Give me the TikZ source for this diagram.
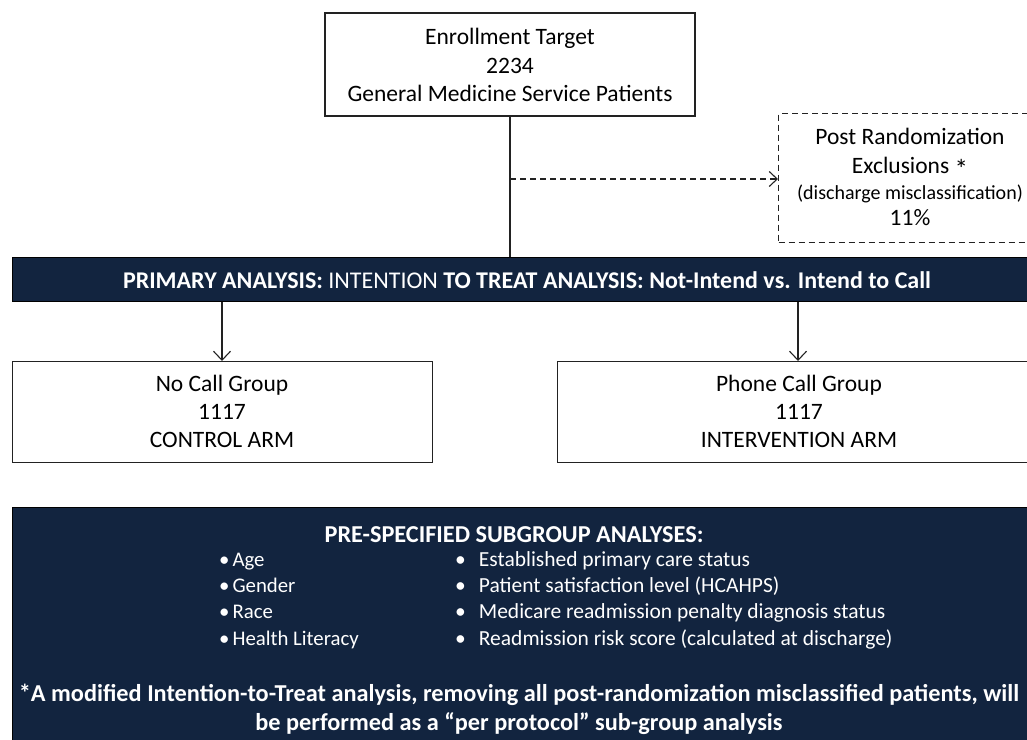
\documentclass[tikz,border=0pt]{standalone}
\usepackage{fontspec}
\setmainfont{Carlito}
\usetikzlibrary{arrows.meta}
\definecolor{navy}{HTML}{12243F}
\definecolor{edge}{HTML}{222222}
\begin{document}
\begin{tikzpicture}[x=1pt,y=-1pt,
  box/.style={draw=edge, line width=1.4pt, fill=white, inner sep=0},
  dbox/.style={draw=edge, line width=1.2pt, dash pattern=on 6pt off 4pt, fill=white, inner sep=0},
  bar/.style={draw=black, line width=1.2pt, fill=navy, inner sep=0},
  t/.style={font=\fontsize{23.5}{28}\selectfont, anchor=base, inner sep=0, text=black},
  ts/.style={font=\fontsize{20}{24}\selectfont, anchor=base, inner sep=0, text=black},
  wt/.style={font=\fontsize{24}{28}\selectfont, anchor=base, inner sep=0, text=white},
  wb/.style={font=\bfseries\fontsize{24.3}{28}\selectfont, anchor=base, inner sep=0, text=white},
  wl/.style={font=\fontsize{21.5}{25}\selectfont, anchor=base west, inner sep=0, text=white},
  wls/.style={font=\fontsize{20.8}{25}\selectfont, anchor=base west, inner sep=0, text=white},
  arr/.style={-{Straight Barb[length=9pt,width=17pt]}, line width=1.1pt, draw=edge},
  ln/.style={line width=1.1pt, draw=edge}
]
\useasboundingbox (0,0) rectangle (1027,739);
\clip (0,0) rectangle (1027,739);

% top box
\node[box, minimum width=370pt, minimum height=103pt] (enroll) at (510,64.5) {};
\node[t] (e1) at (510,44) {Enrollment Target};
\node[t] (e2) at (510,73) {2234};
\node[t] (e3) at (510,101) {General Medicine Service Patients};

% dashed box
\node[dbox, minimum width=260pt, minimum height=129pt, anchor=north west] (excl) at (778,113) {};
\node[t] (x1) at (910,144) {Post Randomization};
\node[t] (x2) at (910,173) {Exclusions {\raisebox{-0.45ex}{\fontsize{27}{28}\selectfont *}}};
\node[ts] (x3) at (910,199) {(discharge misclassification)};
\node[t] (x4) at (910,225) {11\%};

% bar
\node[bar, minimum width=1030pt, minimum height=44pt, anchor=north west] (primary) at (12,257) {};
\node[wt, anchor=base] (ptext) at (527,288) {\textbf{PRIMARY ANALYSIS:} INTENTION \textbf{TO TREAT ANALYSIS: Not-Intend vs. Intend to Call}};

% connectors top
\coordinate (split) at (510,179);
\draw[ln] (enroll.south -| 510,0) -- (primary.north -| 510,0);
\draw[ln, dash pattern=on 6pt off 4pt, -{Straight Barb[length=8pt,width=15pt]}] (split) -- (excl.west |- split);

% arm boxes
\node[box, minimum width=420pt, minimum height=101pt, anchor=north west] (nocall) at (12,361) {};
\node[t] (n1) at (222,391) {No Call Group};
\node[t] (n2) at (222,419) {1117};
\node[t] (n3) at (222,447) {CONTROL ARM};

\node[box, minimum width=480pt, minimum height=101pt, anchor=north west] (phone) at (557,361) {};
\node[t] (p1) at (799,391) {Phone Call Group};
\node[t] (p2) at (799,419) {1117};
\node[t] (p3) at (799,447) {INTERVENTION ARM};

\draw[arr] (primary.south -| 222,0) -- (nocall.north -| 222,0);
\draw[arr] (primary.south -| 798,0) -- (phone.north -| 798,0);

% bottom box
\node[bar, minimum width=1030pt, minimum height=240pt, anchor=north west] (sub) at (12,507) {};
\node[wb] (s0) at (514,542) {PRE-SPECIFIED SUBGROUP ANALYSES:};
\node[wls] (a1) at (219,566) {\textbullet\hspace{3pt}Age};
\node[wls] (a2) at (219,592) {\textbullet\hspace{3pt}Gender};
\node[wls] (a3) at (219,618) {\textbullet\hspace{3pt}Race};
\node[wls] (a4) at (219,645) {\textbullet\hspace{3pt}Health Literacy};
\node[wl] (b1) at (455,566) {\textbullet\hspace{13pt}Established primary care status};
\node[wl] (b2) at (455,592) {\textbullet\hspace{13pt}Patient satisfaction level (HCAHPS)};
\node[wl] (b3) at (455,618) {\textbullet\hspace{13pt}Medicare readmission penalty diagnosis status};
\node[wl] (b4) at (455,645) {\textbullet\hspace{13pt}Readmission risk score (calculated at discharge)};
\node[wb] (f1) at (519,701) {*A modified Intention-to-Treat analysis, removing all post-randomization misclassified patients, will};
\node[wb] (f2) at (519,730) {be performed as a “per protocol” sub-group analysis};
\end{tikzpicture}
\end{document}
